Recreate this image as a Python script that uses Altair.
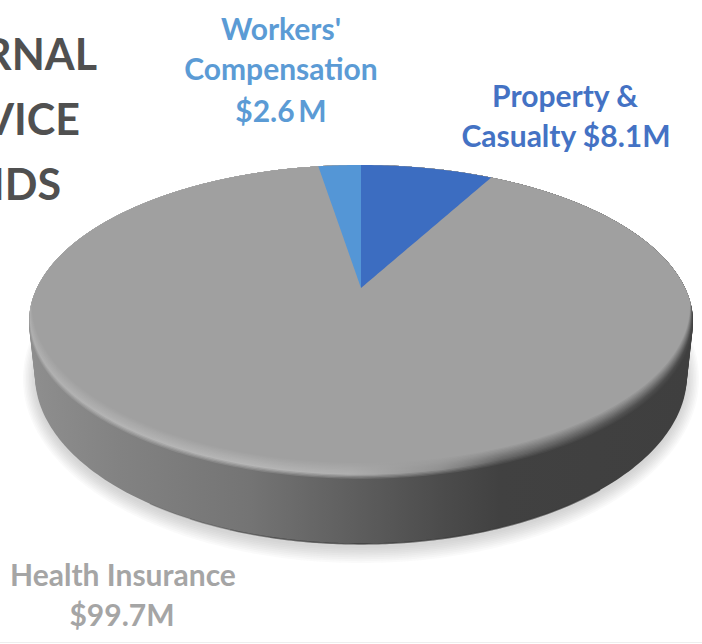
import math
import numpy as np
import pandas as pd
import altair as alt

# Budget of the internal service funds, in millions of dollars
categories = ["Property & Casualty", "Health Insurance", "Workers' Compensation"]
values = [8.1, 99.7, 2.6]
slice_colors = {"Property & Casualty": "#3c6dc1", "Workers' Compensation": "#5496d6"}

heading_lines = ["INTERNAL", "SERVICE", "FUNDS"]
heading_right = [97, 80, 61]
heading_base = [70, 135, 200]

label_text = ["Workers'", "Compensation", "$2.6\u2009M", "Property &", "Casualty $8.1M",
              "Health Insurance", "$99.7M"]
label_x = [281, 281, 281, 565, 566, 123, 122]
label_base = [40, 80, 122, 107, 147, 586, 626]
label_color = ["#5b9bd5", "#5b9bd5", "#5b9bd5", "#4472c4", "#4472c4", "#a5a5a5", "#a5a5a5"]

W, H = 702, 644
X_SCALE = alt.Scale(domain=[0, W], range=[0, W])
Y_SCALE = alt.Scale(domain=[H, 0], range=[H, 0])

# Disc geometry: top face and underside as ellipses (cx, cy, rx, ry)
TOP = (361.0, 322.5, 332.0, 157.5)
BASE = (361.0, 375.0, 326.0, 169.0)
APEX = (361.0, 288.0)


def upper(e, x):
    cx, cy, rx, ry = e
    return cy - ry * np.sqrt(np.clip(1 - ((x - cx) / rx) ** 2, 0, 1))


def lower(e, x):
    cx, cy, rx, ry = e
    return cy + ry * np.sqrt(np.clip(1 - ((x - cx) / rx) ** 2, 0, 1))


def hex_mix(a, b, t):
    ca = [int(a[i:i + 2], 16) for i in (1, 3, 5)]
    cb = [int(b[i:i + 2], 16) for i in (1, 3, 5)]
    return "#" + "".join(f"{round(p + (q - p) * t):02x}" for p, q in zip(ca, cb))


def h_gradient(e, stops):
    cx, _, rx, _ = e
    left, right = cx - rx, cx + rx
    pts = [(min(1, max(0, (x - left) / (right - left))), c) for x, c in stops]
    return alt.Gradient(
        gradient="linear", x1=0, x2=1, y1=0, y2=0,
        stops=[alt.GradientStop(offset=o, color=c) for o, c in pts],
    )


def area_layer(df, color, opacity=1.0):
    return alt.Chart(df).mark_area(color=color, opacity=opacity).encode(
        x=alt.X("x:Q", scale=X_SCALE, axis=None),
        y=alt.Y("y:Q", scale=Y_SCALE, axis=None),
        y2="y2:Q",
    )


def sweep_x(e, n=161):
    cx, _, rx, _ = e
    return cx - rx * np.cos(np.linspace(0, math.pi, n))


def ellipse_layer(e, color, opacity=1.0):
    xs = sweep_x(e)
    df = pd.DataFrame({"x": xs, "y": upper(e, xs), "y2": lower(e, xs)})
    return area_layer(df, color, opacity)


def lerp_e(a, b, t):
    return tuple(p + (q - p) * t for p, q in zip(a, b))


layers = []

# Soft drop shadow built up from faint nested ellipses
for i in range(9):
    t = i / 8
    shadow = lerp_e((361.0, 379.0, 338.0, 184.0), (361.0, 378.0, 326.0, 170.0), t)
    layers.append(ellipse_layer(shadow, "#6e6e6e", 0.035))

# Side wall: shading runs from mid grey on the left to charcoal on the right
WALL = [(29, "#8e8e8e"), (120, "#828282"), (250, "#747474"), (350, "#5f5f5f"),
        (440, "#4c4c4c"), (500, "#414141"), (693, "#3f3f3f")]
for i in range(14):
    e = lerp_e(BASE, TOP, i / 13)
    layers.append(ellipse_layer(e, h_gradient(e, WALL)))

# Thin dark edge where the wall meets the ground, faded in over a few overlapping runs
for start in (150, 190, 230, 270):
    edge_x = np.linspace(start, 600, 120)
    layers.append(alt.Chart(pd.DataFrame({"x": edge_x, "y": lower(BASE, edge_x)})).mark_line(
        color="#3a3a3a", strokeWidth=1.3, opacity=0.22
    ).encode(
        x=alt.X("x:Q", scale=X_SCALE, axis=None),
        y=alt.Y("y:Q", scale=Y_SCALE, axis=None),
    ))

# Bevel between wall and top face: the face's lower edge lifts in steps, its upper edge stays
RIM_NEAR = [(29, "#b0b0b0"), (120, "#b4b4b4"), (250, "#b6b6b6"), (350, "#afafaf"),
            (440, "#909090"), (500, "#666666"), (693, "#484848")]
FACE = "#a0a0a0"
N_BEVEL = 14
for i in range(N_BEVEL):
    t = i / (N_BEVEL - 1)
    cx, cy, rx, ry = TOP
    e_low = (cx, cy - 17 * t, rx - 3 * t, ry)
    e_x = (cx, cy, rx - 3 * t, ry)
    xs = sweep_x(e_x)
    y_top = upper(TOP, xs)
    y_low = np.maximum(lower(e_low, xs), y_top)
    if t < 0.3:
        stops = [(x, hex_mix(w, r, t / 0.3)) for (x, w), (_, r) in zip(WALL, RIM_NEAR)]
    else:
        stops = [(x, hex_mix(r, FACE, (t - 0.3) / 0.7)) for x, r in RIM_NEAR]
    layers.append(area_layer(pd.DataFrame({"x": xs, "y": y_top, "y2": y_low}),
                             h_gradient(e_x, stops)))


# Blue slices over the grey face, swept from the values clockwise from 12 o'clock
def wedge_end_x(theta):
    return APEX[0] + 324 * math.sin(theta) / (1 + 0.12 * math.cos(theta))


total = sum(values)
for name, start_v, end_v in [("Property & Casualty", 0.0, values[0]),
                             ("Workers' Compensation", -values[2], 0.0)]:
    a0 = 2 * math.pi * start_v / total
    a1 = 2 * math.pi * end_v / total
    x0, x1 = wedge_end_x(a0), wedge_end_x(a1)
    xs = np.linspace(x0, x1, 40)
    rim_y = upper(TOP, xs)
    far_x = x1 if abs(x1 - APEX[0]) > abs(x0 - APEX[0]) else x0
    far_y = float(upper(TOP, np.array([far_x]))[0])
    inner = APEX[1] + (xs - APEX[0]) / (far_x - APEX[0]) * (far_y - APEX[1])
    layers.append(area_layer(pd.DataFrame({"x": xs, "y": rim_y, "y2": inner}), slice_colors[name]))

# Heading, right-aligned so its start runs off the left of the canvas
head_df = pd.DataFrame({"t": heading_lines, "x": heading_right, "y": heading_base})
layers.append(alt.Chart(head_df).mark_text(
    font="Lato", fontWeight="bold", fontSize=43, align="right", baseline="alphabetic", color="#505050"
).encode(
    x=alt.X("x:Q", scale=X_SCALE, axis=None),
    y=alt.Y("y:Q", scale=Y_SCALE, axis=None),
    text="t:N",
))

# Slice labels
label_df = pd.DataFrame({"t": label_text, "x": label_x, "y": label_base, "c": label_color})
layers.append(alt.Chart(label_df).mark_text(
    font="Lato", fontWeight="bold", fontSize=30, align="center", baseline="alphabetic"
).encode(
    x=alt.X("x:Q", scale=X_SCALE, axis=None),
    y=alt.Y("y:Q", scale=Y_SCALE, axis=None),
    text="t:N",
    color=alt.Color("c:N", scale=None),
))

# Faint hairline along the bottom edge
layers.append(alt.Chart(pd.DataFrame({"y": [642.5]})).mark_rule(color="#eeeeee").encode(
    y=alt.Y("y:Q", scale=Y_SCALE, axis=None)
))

chart = alt.layer(*layers).properties(
    width=W, height=H, padding=0,
    autosize=alt.AutoSizeParams(type="none"),
    background="#ffffff",
).configure_view(stroke=None)

chart.save("out.html", embed_options={"renderer": "svg", "actions": False})
